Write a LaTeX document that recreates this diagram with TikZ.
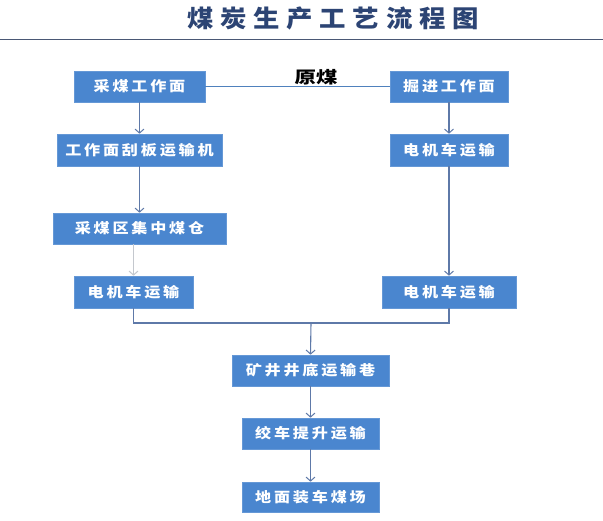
\documentclass[tikz,border=0pt]{standalone}
\usepackage{fontspec}
\setmainfont{Noto Sans CJK SC}
\newfontfamily\boxfont[LetterSpace=20,FakeStretch=1.15]{Noto Sans CJK SC}
\newfontfamily\titlefont[LetterSpace=28,FakeStretch=1.1]{Noto Sans CJK SC}
\newfontfamily\labelfont[FakeStretch=1.3]{Noto Sans CJK SC}
\usetikzlibrary{arrows.meta}
\definecolor{boxblue}{HTML}{4A86CF}
\definecolor{linecol}{HTML}{5E79A8}
\definecolor{toplink}{HTML}{4F81BD}
\definecolor{titlecol}{HTML}{2C4474}
\definecolor{rulecol}{HTML}{4A5875}
\definecolor{graylink}{HTML}{C4C8CE}
\tikzset{
  stepbox/.style={fill=boxblue, draw=boxblue!85!white, line width=0.6pt, text=white,
    font=\boxfont\fontsize{14}{16}\selectfont\bfseries,
    minimum height=31pt, inner sep=0pt, anchor=center},
  flow/.style={draw=linecol, line width=1.1pt, -{Straight Barb[length=4pt,width=9pt,line width=1pt]}},
  joinline/.style={draw=linecol, line width=1.1pt},
}
\begin{document}
\begin{tikzpicture}[x=1pt,y=-1pt]
\useasboundingbox (0,0) rectangle (603,520);
\fill[white] (0,0) rectangle (603,520);
% title and rule
\node[text=titlecol, font=\titlefont\fontsize{24}{26}\selectfont\bfseries] (title) at (333,18) {煤炭生产工艺流程图};
\coordinate (rl) at (0,39.5);
\coordinate (rr) at (603,39.5);
\draw[rulecol, line width=1.4pt] (rl) -- (rr);
% boxes
\node[stepbox, minimum width=131pt] (caimei) at (139.5,86.5) {采煤工作面};
\node[stepbox, minimum width=118pt] (juejin) at (449,86.5) {掘进工作面};
\node[stepbox, minimum width=165pt, minimum height=32pt] (guaban) at (139.5,150) {工作面刮板运输机};
\node[stepbox, minimum width=118pt, minimum height=32pt] (djr1) at (449,150) {电机车运输};
\node[stepbox, minimum width=173pt] (meicang) at (139.5,228.5) {采煤区集中煤仓};
\node[stepbox, minimum width=119pt, minimum height=32pt] (djl) at (133.5,292) {电机车运输};
\node[stepbox, minimum width=134pt, minimum height=32pt] (djr2) at (449,292) {电机车运输};
\node[stepbox, minimum width=157pt] (xiang) at (310.5,370.5) {矿井井底运输巷};
\node[stepbox, minimum width=137pt] (jiaoche) at (310.5,433.5) {绞车提升运输};
\node[stepbox, minimum width=137pt, minimum height=30pt] (dimian) at (310.5,497) {地面装车煤场};
% top link
\draw[toplink, line width=1.4pt] (caimei.east) -- (juejin.west);
\node[font=\labelfont\fontsize{16.5}{18}\selectfont\bfseries, text=black] (yuanmei) at (316,77) {原煤};
% left column
\draw[flow] (caimei) -- (guaban);
\draw[flow] (guaban) -- (meicang);
\draw[graylink, line width=1.1pt, -{Straight Barb[length=4pt,width=9pt,line width=1pt]}] (meicang.south -| djl.north) -- (djl.north);
% right column
\draw[flow] (juejin) -- (djr1);
\draw[flow] (djr1) -- (djr2);
% merge
\coordinate (mid) at (311,323);
\draw[joinline] (djl.south) |- (mid) -| (djr2.south);
\draw[flow] (mid) -- (xiang.north);
\draw[flow] (xiang) -- (jiaoche);
\draw[flow] (jiaoche) -- (dimian);
\end{tikzpicture}
\end{document}
